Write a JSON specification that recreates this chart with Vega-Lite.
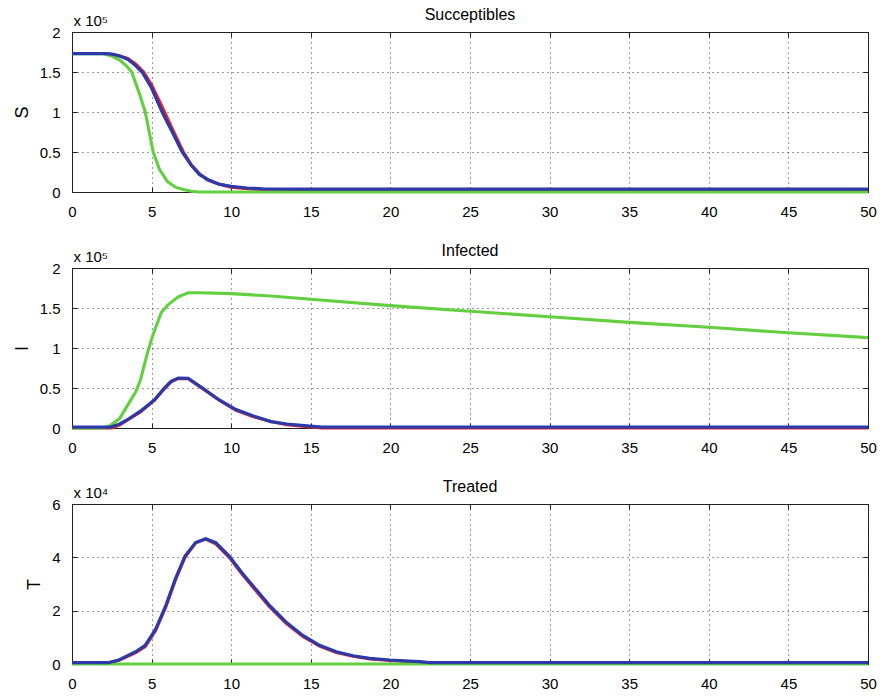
{
  "$schema": "https://vega.github.io/schema/vega-lite/v6.json",
  "background": "white",
  "padding": {"left": 12, "top": 6, "right": 10, "bottom": 4},
  "spacing": 22,
  "datasets": {
    "S": [
      {"t": 0, "v": 1.73, "s": "A"}, {"t": 2, "v": 1.73, "s": "A"}, {"t": 2.5, "v": 1.72, "s": "A"}, {"t": 3, "v": 1.70, "s": "A"}, {"t": 3.5, "v": 1.67, "s": "A"}, {"t": 4, "v": 1.60, "s": "A"}, {"t": 4.5, "v": 1.50, "s": "A"}, {"t": 5, "v": 1.34, "s": "A"}, {"t": 5.7, "v": 1.05, "s": "A"}, {"t": 6.35, "v": 0.77, "s": "A"}, {"t": 7, "v": 0.50, "s": "A"}, {"t": 7.5, "v": 0.34, "s": "A"}, {"t": 8, "v": 0.23, "s": "A"}, {"t": 8.5, "v": 0.15, "s": "A"}, {"t": 9.2, "v": 0.10, "s": "A"}, {"t": 10, "v": 0.06, "s": "A"}, {"t": 11, "v": 0.04, "s": "A"}, {"t": 12, "v": 0.03, "s": "A"}, {"t": 15, "v": 0.025, "s": "A"}, {"t": 50, "v": 0.025, "s": "A"},
      {"t": 0, "v": 1.73, "s": "B"}, {"t": 1.9, "v": 1.73, "s": "B"}, {"t": 2.5, "v": 1.70, "s": "B"}, {"t": 3, "v": 1.65, "s": "B"}, {"t": 3.4, "v": 1.58, "s": "B"}, {"t": 3.75, "v": 1.50, "s": "B"}, {"t": 4.2, "v": 1.25, "s": "B"}, {"t": 4.6, "v": 1.0, "s": "B"}, {"t": 5.0, "v": 0.6, "s": "B"}, {"t": 5.1, "v": 0.5, "s": "B"}, {"t": 5.5, "v": 0.28, "s": "B"}, {"t": 6, "v": 0.13, "s": "B"}, {"t": 6.5, "v": 0.06, "s": "B"}, {"t": 7, "v": 0.03, "s": "B"}, {"t": 7.5, "v": 0.01, "s": "B"}, {"t": 8, "v": 0.0, "s": "B"}, {"t": 50, "v": 0.0, "s": "B"},
      {"t": 0, "v": 1.73, "s": "C"}, {"t": 2.2, "v": 1.73, "s": "C"}, {"t": 2.6, "v": 1.72, "s": "C"}, {"t": 3, "v": 1.70, "s": "C"}, {"t": 3.5, "v": 1.66, "s": "C"}, {"t": 4, "v": 1.58, "s": "C"}, {"t": 4.4, "v": 1.50, "s": "C"}, {"t": 5, "v": 1.30, "s": "C"}, {"t": 5.66, "v": 1.0, "s": "C"}, {"t": 6.3, "v": 0.75, "s": "C"}, {"t": 6.92, "v": 0.5, "s": "C"}, {"t": 7.5, "v": 0.33, "s": "C"}, {"t": 8, "v": 0.22, "s": "C"}, {"t": 8.5, "v": 0.16, "s": "C"}, {"t": 9.2, "v": 0.10, "s": "C"}, {"t": 10, "v": 0.07, "s": "C"}, {"t": 11, "v": 0.05, "s": "C"}, {"t": 12, "v": 0.04, "s": "C"}, {"t": 15, "v": 0.035, "s": "C"}, {"t": 50, "v": 0.035, "s": "C"}
    ],
    "I": [
      {"t": 0, "v": 0.0, "s": "A"}, {"t": 2.5, "v": 0.0, "s": "A"}, {"t": 3, "v": 0.04, "s": "A"}, {"t": 3.5, "v": 0.1, "s": "A"}, {"t": 4.3, "v": 0.2, "s": "A"}, {"t": 5.2, "v": 0.35, "s": "A"}, {"t": 5.85, "v": 0.5, "s": "A"}, {"t": 6.25, "v": 0.58, "s": "A"}, {"t": 6.7, "v": 0.62, "s": "A"}, {"t": 7.3, "v": 0.615, "s": "A"}, {"t": 8.2, "v": 0.49, "s": "A"}, {"t": 9.3, "v": 0.34, "s": "A"}, {"t": 10.3, "v": 0.22, "s": "A"}, {"t": 11.4, "v": 0.14, "s": "A"}, {"t": 12.5, "v": 0.08, "s": "A"}, {"t": 13.5, "v": 0.04, "s": "A"}, {"t": 14.6, "v": 0.02, "s": "A"}, {"t": 15.7, "v": 0.0, "s": "A"}, {"t": 50, "v": 0.0, "s": "A"},
      {"t": 0, "v": 0.0, "s": "B"}, {"t": 2, "v": 0.0, "s": "B"}, {"t": 2.4, "v": 0.03, "s": "B"}, {"t": 3, "v": 0.12, "s": "B"}, {"t": 3.45, "v": 0.27, "s": "B"}, {"t": 4, "v": 0.45, "s": "B"}, {"t": 4.3, "v": 0.6, "s": "B"}, {"t": 4.74, "v": 0.94, "s": "B"}, {"t": 5.06, "v": 1.15, "s": "B"}, {"t": 5.6, "v": 1.44, "s": "B"}, {"t": 6.03, "v": 1.54, "s": "B"}, {"t": 6.67, "v": 1.64, "s": "B"}, {"t": 7.3, "v": 1.69, "s": "B"}, {"t": 8, "v": 1.69, "s": "B"}, {"t": 10, "v": 1.68, "s": "B"}, {"t": 12.5, "v": 1.65, "s": "B"}, {"t": 15, "v": 1.61, "s": "B"}, {"t": 20, "v": 1.53, "s": "B"}, {"t": 25, "v": 1.46, "s": "B"}, {"t": 30, "v": 1.39, "s": "B"}, {"t": 35, "v": 1.32, "s": "B"}, {"t": 40, "v": 1.26, "s": "B"}, {"t": 45, "v": 1.19, "s": "B"}, {"t": 50, "v": 1.13, "s": "B"},
      {"t": 0, "v": 0.01, "s": "C"}, {"t": 2.4, "v": 0.01, "s": "C"}, {"t": 3, "v": 0.05, "s": "C"}, {"t": 3.45, "v": 0.1, "s": "C"}, {"t": 4.3, "v": 0.21, "s": "C"}, {"t": 5.17, "v": 0.35, "s": "C"}, {"t": 5.8, "v": 0.5, "s": "C"}, {"t": 6.2, "v": 0.58, "s": "C"}, {"t": 6.67, "v": 0.625, "s": "C"}, {"t": 7.3, "v": 0.62, "s": "C"}, {"t": 8.2, "v": 0.5, "s": "C"}, {"t": 9.25, "v": 0.35, "s": "C"}, {"t": 10.3, "v": 0.23, "s": "C"}, {"t": 11.4, "v": 0.15, "s": "C"}, {"t": 12.5, "v": 0.08, "s": "C"}, {"t": 13.5, "v": 0.05, "s": "C"}, {"t": 14.6, "v": 0.03, "s": "C"}, {"t": 15.7, "v": 0.01, "s": "C"}, {"t": 50, "v": 0.01, "s": "C"}
    ],
    "T": [
      {"t": 0, "v": 0.03, "s": "A"}, {"t": 2.3, "v": 0.03, "s": "A"}, {"t": 3, "v": 0.15, "s": "A"}, {"t": 4, "v": 0.42, "s": "A"}, {"t": 4.6, "v": 0.65, "s": "A"}, {"t": 5.25, "v": 1.25, "s": "A"}, {"t": 5.9, "v": 2.15, "s": "A"}, {"t": 6.5, "v": 3.15, "s": "A"}, {"t": 7.1, "v": 4.0, "s": "A"}, {"t": 7.77, "v": 4.55, "s": "A"}, {"t": 8.4, "v": 4.68, "s": "A"}, {"t": 9.03, "v": 4.5, "s": "A"}, {"t": 9.87, "v": 4.0, "s": "A"}, {"t": 10.7, "v": 3.35, "s": "A"}, {"t": 11.55, "v": 2.75, "s": "A"}, {"t": 12.4, "v": 2.15, "s": "A"}, {"t": 13.45, "v": 1.52, "s": "A"}, {"t": 14.5, "v": 1.03, "s": "A"}, {"t": 15.55, "v": 0.67, "s": "A"}, {"t": 16.6, "v": 0.43, "s": "A"}, {"t": 17.65, "v": 0.29, "s": "A"}, {"t": 18.7, "v": 0.19, "s": "A"}, {"t": 19.96, "v": 0.13, "s": "A"}, {"t": 21.8, "v": 0.07, "s": "A"}, {"t": 22.5, "v": 0.03, "s": "A"}, {"t": 50, "v": 0.03, "s": "A"},
      {"t": 0, "v": 0.0, "s": "B"}, {"t": 25, "v": 0.0, "s": "B"}, {"t": 50, "v": 0.0, "s": "B"},
      {"t": 0, "v": 0.05, "s": "C"}, {"t": 2.3, "v": 0.05, "s": "C"}, {"t": 2.94, "v": 0.15, "s": "C"}, {"t": 4, "v": 0.46, "s": "C"}, {"t": 4.6, "v": 0.7, "s": "C"}, {"t": 5.25, "v": 1.3, "s": "C"}, {"t": 5.9, "v": 2.2, "s": "C"}, {"t": 6.5, "v": 3.2, "s": "C"}, {"t": 7.1, "v": 4.05, "s": "C"}, {"t": 7.77, "v": 4.55, "s": "C"}, {"t": 8.4, "v": 4.7, "s": "C"}, {"t": 9.03, "v": 4.55, "s": "C"}, {"t": 9.87, "v": 4.05, "s": "C"}, {"t": 10.7, "v": 3.4, "s": "C"}, {"t": 11.55, "v": 2.8, "s": "C"}, {"t": 12.4, "v": 2.2, "s": "C"}, {"t": 13.45, "v": 1.57, "s": "C"}, {"t": 14.5, "v": 1.07, "s": "C"}, {"t": 15.55, "v": 0.7, "s": "C"}, {"t": 16.6, "v": 0.46, "s": "C"}, {"t": 17.65, "v": 0.31, "s": "C"}, {"t": 18.7, "v": 0.21, "s": "C"}, {"t": 19.96, "v": 0.15, "s": "C"}, {"t": 21.8, "v": 0.09, "s": "C"}, {"t": 22.5, "v": 0.05, "s": "C"}, {"t": 50, "v": 0.05, "s": "C"}
    ]
  },
  "config": {
    "font": "Liberation Sans",
    "view": {"stroke": "#222", "strokeWidth": 1},
    "axis": {
      "labelFont": "Liberation Sans", "labelFontSize": 15, "labelColor": "#000",
      "grid": true, "gridColor": "#222", "gridDash": [1, 4], "gridOpacity": 0.9, "gridWidth": 1,
      "domain": false, "tickColor": "#222", "tickSize": -5, "labelPadding": 17,
      "titleFont": "Liberation Sans", "titleFontSize": 18, "titleFontWeight": "normal", "titleColor": "#000",
      "labelFlush": false, "labelOverlap": false
    },
    "title": {"font": "Liberation Sans", "fontSize": 16, "fontWeight": "normal", "color": "#000", "offset": -10}
  },
  "vconcat": [
    {
      "width": 796, "height": 160,
      "title": "Succeptibles",
      "data": {"name": "S"},
      "layer": [
        {
          "mark": {"type": "line"},
          "encoding": {
            "x": {"field": "t", "type": "quantitative", "scale": {"domain": [0, 50], "nice": false}, "axis": {"values": [0, 5, 10, 15, 20, 25, 30, 35, 40, 45, 50], "title": null}},
            "y": {"field": "v", "type": "quantitative", "scale": {"domain": [0, 2], "nice": false}, "axis": {"values": [0, 0.5, 1, 1.5, 2], "format": "~g", "title": "S", "titlePadding": 8}},
            "color": {"field": "s", "type": "nominal", "scale": {"domain": ["A", "B", "C"], "range": ["#e8232b", "#62cf3f", "#2b3aa8"]}, "legend": null},
            "strokeWidth": {"field": "s", "type": "nominal", "scale": {"domain": ["A", "B", "C"], "range": [3, 3.2, 4]}, "legend": null}
          }
        },
        {
          "mark": {"type": "point", "opacity": 0},
          "encoding": {
            "x": {"field": "t", "type": "quantitative", "axis": {"orient": "top", "labels": false, "grid": false, "values": [0, 5, 10, 15, 20, 25, 30, 35, 40, 45, 50], "title": "x 10⁵", "titleAnchor": "start", "titleAlign": "left", "titleBaseline": "alphabetic", "titleX": 1, "titleY": -7, "titleFontSize": 15}},
            "y": {"field": "v", "type": "quantitative", "axis": {"orient": "right", "labels": false, "grid": false, "values": [0, 0.5, 1, 1.5, 2], "title": null}}
          }
        }
      ],
      "resolve": {"axis": {"x": "independent", "y": "independent"}}
    },
    {
      "width": 796, "height": 160,
      "title": "Infected",
      "data": {"name": "I"},
      "layer": [
        {
          "mark": {"type": "line"},
          "encoding": {
            "x": {"field": "t", "type": "quantitative", "scale": {"domain": [0, 50], "nice": false}, "axis": {"values": [0, 5, 10, 15, 20, 25, 30, 35, 40, 45, 50], "title": null}},
            "y": {"field": "v", "type": "quantitative", "scale": {"domain": [0, 2], "nice": false}, "axis": {"values": [0, 0.5, 1, 1.5, 2], "format": "~g", "title": "I", "titlePadding": 8}},
            "color": {"field": "s", "type": "nominal", "scale": {"domain": ["A", "B", "C"], "range": ["#e8232b", "#62cf3f", "#2b3aa8"]}, "legend": null},
            "strokeWidth": {"field": "s", "type": "nominal", "scale": {"domain": ["A", "B", "C"], "range": [3, 3.2, 4]}, "legend": null}
          }
        },
        {
          "mark": {"type": "point", "opacity": 0},
          "encoding": {
            "x": {"field": "t", "type": "quantitative", "axis": {"orient": "top", "labels": false, "grid": false, "values": [0, 5, 10, 15, 20, 25, 30, 35, 40, 45, 50], "title": "x 10⁵", "titleAnchor": "start", "titleAlign": "left", "titleBaseline": "alphabetic", "titleX": 1, "titleY": -7, "titleFontSize": 15}},
            "y": {"field": "v", "type": "quantitative", "axis": {"orient": "right", "labels": false, "grid": false, "values": [0, 0.5, 1, 1.5, 2], "title": null}}
          }
        }
      ],
      "resolve": {"axis": {"x": "independent", "y": "independent"}}
    },
    {
      "width": 796, "height": 160,
      "title": "Treated",
      "data": {"name": "T"},
      "layer": [
        {
          "mark": {"type": "line"},
          "encoding": {
            "x": {"field": "t", "type": "quantitative", "scale": {"domain": [0, 50], "nice": false}, "axis": {"values": [0, 5, 10, 15, 20, 25, 30, 35, 40, 45, 50], "title": null}},
            "y": {"field": "v", "type": "quantitative", "scale": {"domain": [0, 6], "nice": false}, "axis": {"values": [0, 2, 4, 6], "format": "~g", "title": "T", "titlePadding": 8}},
            "color": {"field": "s", "type": "nominal", "scale": {"domain": ["A", "B", "C"], "range": ["#e8232b", "#62cf3f", "#2b3aa8"]}, "legend": null},
            "strokeWidth": {"field": "s", "type": "nominal", "scale": {"domain": ["A", "B", "C"], "range": [3, 3.2, 4]}, "legend": null}
          }
        },
        {
          "mark": {"type": "point", "opacity": 0},
          "encoding": {
            "x": {"field": "t", "type": "quantitative", "axis": {"orient": "top", "labels": false, "grid": false, "values": [0, 5, 10, 15, 20, 25, 30, 35, 40, 45, 50], "title": "x 10⁴", "titleAnchor": "start", "titleAlign": "left", "titleBaseline": "alphabetic", "titleX": 1, "titleY": -7, "titleFontSize": 15}},
            "y": {"field": "v", "type": "quantitative", "axis": {"orient": "right", "labels": false, "grid": false, "values": [0, 2, 4, 6], "title": null}}
          }
        }
      ],
      "resolve": {"axis": {"x": "independent", "y": "independent"}}
    }
  ]
}
